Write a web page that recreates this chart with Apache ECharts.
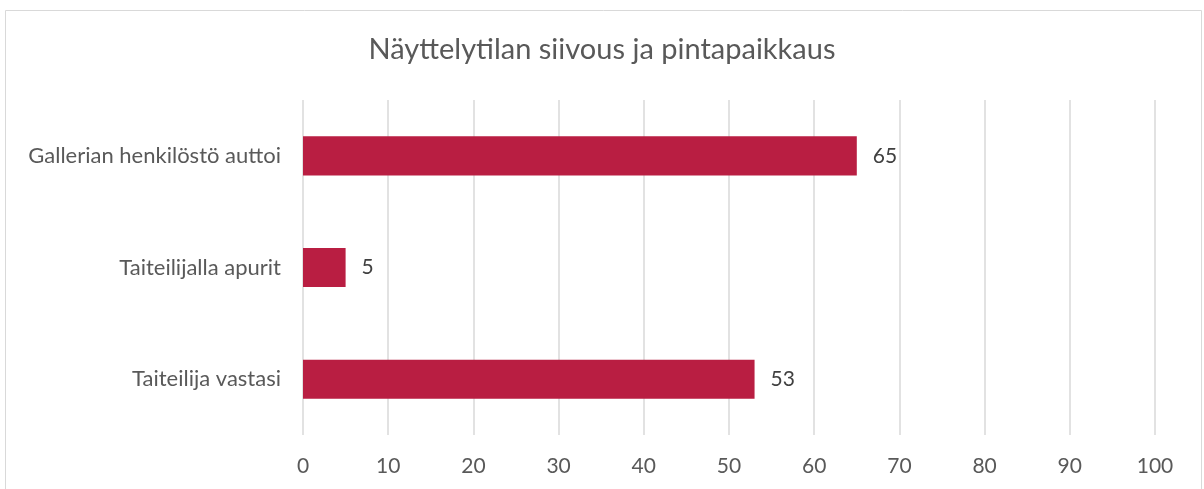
<!DOCTYPE html>
<html>
<head>
<meta charset="utf-8">
<style>
  html, body { margin: 0; padding: 0; background: #ffffff; }
  #chart { width: 1204px; height: 489px; }
</style>
<script src="https://cdn.jsdelivr.net/npm/echarts@6/dist/echarts.min.js"></script>
</head>
<body>
<div id="chart"></div>
<script>
// Who handled cleaning and surface repairs of the exhibition space
const categories = ['Gallerian henkilöstö auttoi', 'Taiteilijalla apurit', 'Taiteilija vastasi'];
const values = [65, 5, 53];
const titleText = 'Näyttelytilan siivous ja pintapaikkaus';

const FONT = 'Lato, "Open Sans", sans-serif';
const TEXT = '#595959';

const chart = echarts.init(document.getElementById('chart'), null, { renderer: 'canvas' });
chart.setOption({
  animation: false,
  backgroundColor: '#ffffff',
  title: {
    text: titleText,
    left: 'center',
    top: 30,
    textStyle: { fontFamily: FONT, fontSize: 29, fontWeight: 'normal', color: TEXT }
  },
  graphic: [{
    type: 'rect',
    shape: { x: 5.5, y: 10.5, width: 1196, height: 490 },
    style: { fill: 'none', stroke: '#d9d9d9', lineWidth: 1 },
    silent: true
  }],
  grid: { left: 303, right: 49, top: 100, bottom: 54 },
  xAxis: {
    type: 'value',
    min: 0,
    max: 100,
    interval: 10,
    axisLine: { show: false },
    axisTick: { show: false },
    axisLabel: { margin: 21, fontFamily: FONT, fontSize: 21, color: TEXT },
    splitLine: { show: true, lineStyle: { color: '#d9d9d9', width: 1.5 } }
  },
  yAxis: {
    type: 'category',
    data: categories,
    inverse: true,
    axisLine: { show: false },
    axisTick: { show: false },
    axisLabel: { margin: 22, fontFamily: FONT, fontSize: 22, color: TEXT }
  },
  series: [{
    type: 'bar',
    data: values,
    barWidth: '35%',
    itemStyle: { color: '#b91e42' },
    label: {
      show: true,
      position: 'right',
      distance: 16,
      fontFamily: FONT,
      fontSize: 21,
      color: '#404040'
    }
  }]
});
</script>
</body>
</html>
